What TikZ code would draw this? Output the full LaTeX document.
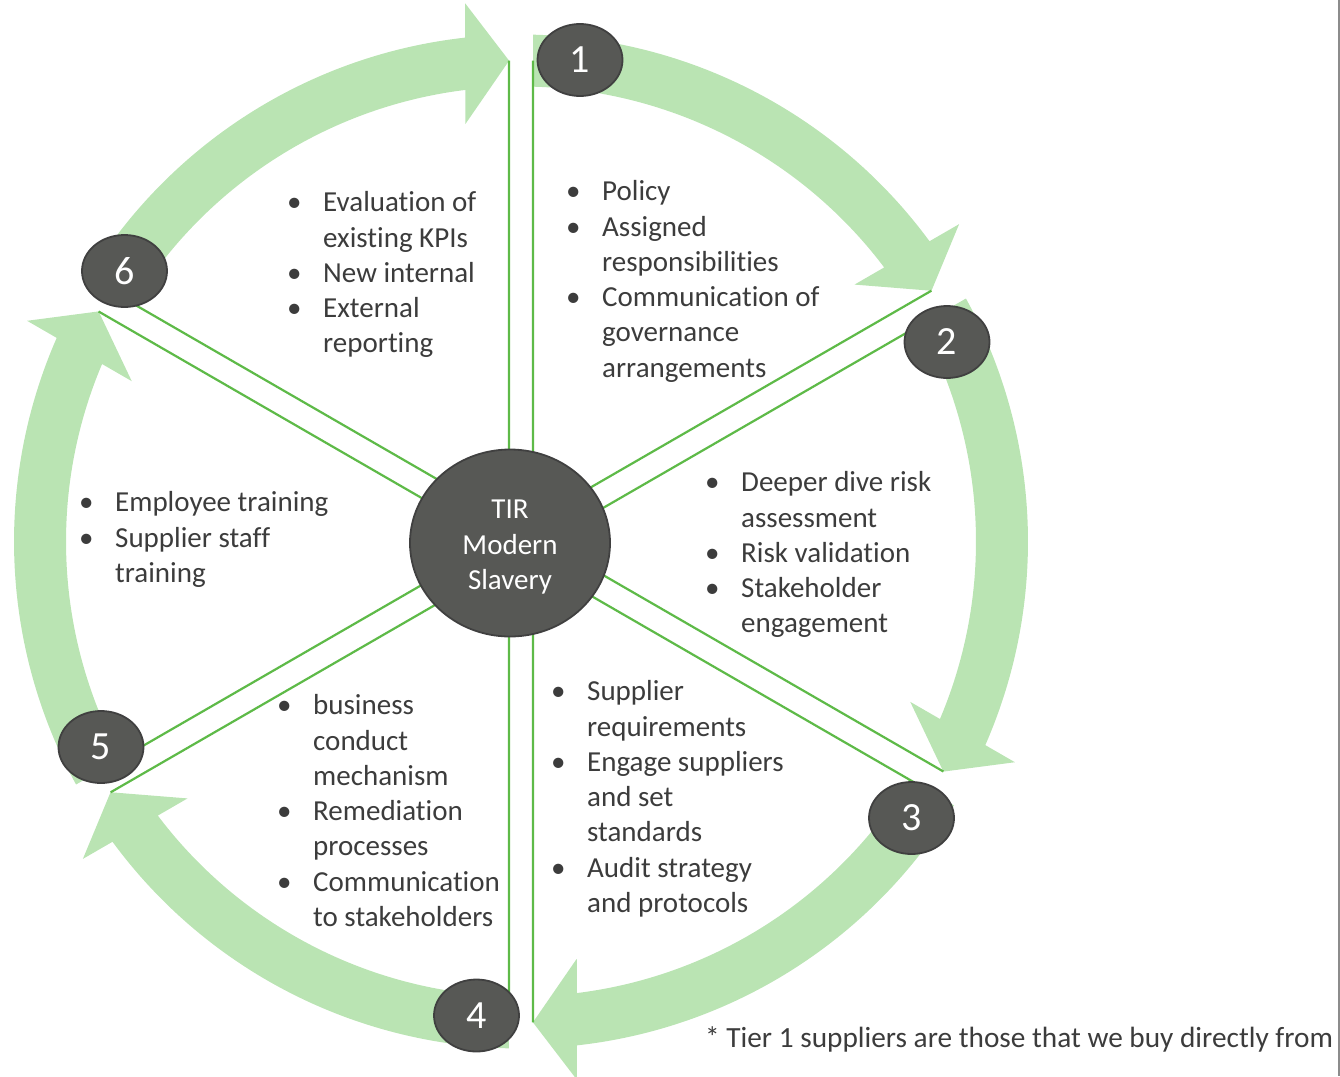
\documentclass[tikz,border=0pt]{standalone}
\usepackage{fontspec}
\setmainfont{Carlito}[Ligatures=NoCommon, RawFeature={-liga;-clig;-dlig}]
\usetikzlibrary{shapes}

\definecolor{ringgreen}{RGB}{186,228,179}
\definecolor{spokegreen}{RGB}{94,186,72}
\definecolor{discgrey}{RGB}{87,88,85}
\definecolor{discedge}{RGB}{64,64,64}
\definecolor{bodygrey}{RGB}{60,60,60}

\newcommand{\bulletlist}[1]{\begin{tabular}{@{}p{36pt}@{}l@{}}#1\end{tabular}}

\tikzset{
  band/.style={fill=ringgreen},
  spoke/.style={draw=spokegreen, line width=2.2pt, line join=round},
  disc/.style={ellipse, draw=discedge, line width=1.8pt, fill=discgrey, text=white, inner sep=0pt},
  stepnum/.style={disc, minimum width=85pt, minimum height=72pt, font=\fontsize{40}{48}\selectfont},
  points/.style={anchor=north west, inner sep=0pt, text=bodygrey, font=\fontsize{29}{35.3}\selectfont}
}

\begin{document}
\begin{tikzpicture}[x=1pt,y=-1pt]
\useasboundingbox (0,0) rectangle (1340,1076);

% ring of arrows (angles run clockwise from east, round the ring centre)
\begin{scope}[shift={(521,541.5)}]
  \fill[band] (-88.64:507) arc[start angle=-88.64, end angle=-36.32, radius=507] -- (-35.92:541) -- (-31.42:481) -- (-37.61:421) -- (-37.04:455) arc[start angle=-37.04, end angle=-88.49, radius=455] -- cycle;
  \fill[band] (-28.64:507) arc[start angle=-28.64, end angle=23.68, radius=507] -- (24.08:541) -- (28.58:481) -- (22.39:421) -- (22.96:455) arc[start angle=22.96, end angle=-28.49, radius=455] -- cycle;
  \fill[band] (31.36:507) arc[start angle=31.36, end angle=83.68, radius=507] -- (84.08:541) -- (88.58:481) -- (82.39:421) -- (82.96:455) arc[start angle=82.96, end angle=31.51, radius=455] -- cycle;
  \fill[band] (91.36:507) arc[start angle=91.36, end angle=143.68, radius=507] -- (144.08:541) -- (148.58:481) -- (142.39:421) -- (142.96:455) arc[start angle=142.96, end angle=91.51, radius=455] -- cycle;
  \fill[band] (151.36:507) arc[start angle=151.36, end angle=203.68, radius=507] -- (204.08:541) -- (208.58:481) -- (202.39:421) -- (202.96:455) arc[start angle=202.96, end angle=151.51, radius=455] -- cycle;
  \fill[band] (211.36:507) arc[start angle=211.36, end angle=263.68, radius=507] -- (264.08:541) -- (268.58:481) -- (262.39:421) -- (262.96:455) arc[start angle=262.96, end angle=211.51, radius=455] -- cycle;

  % spokes, each stage has its own pair
  \draw[spoke] (-88.57:481) -- (-60:24) -- (-31.43:481);
  \draw[spoke] (-28.57:481) -- (0:24) -- (28.57:481);
  \draw[spoke] (31.43:481) -- (60:24) -- (88.57:481);
  \draw[spoke] (91.43:481) -- (120:24) -- (148.57:481);
  \draw[spoke] (151.43:481) -- (180:24) -- (208.57:481);
  \draw[spoke] (211.43:481) -- (240:24) -- (268.57:481);
\end{scope}

% hub (extra height on top pushes the lines a little lower)
\node[disc, minimum width=200pt, minimum height=187pt, font=\fontsize{29}{35.5}\selectfont] (hub) at (510,543) {\raisebox{0pt}[\dimexpr\height+8pt\relax]{\begin{tabular}{@{}c@{}}TIR\\Modern\\Slavery\end{tabular}}};

% step numbers
\node[stepnum] (n1) at (580,60) {1};
\node[stepnum] (n2) at (947,342) {2};
\node[stepnum] (n3) at (911.5,818) {3};
\node[stepnum] (n4) at (476.5,1015.5) {4};
\node[stepnum] (n5) at (101,747) {5};
\node[stepnum] (n6) at (124.5,271) {6};

% stage texts
\node[points] (t1) at (566,175.8) {\bulletlist{
  \textbullet & Policy\\
  \textbullet & Assigned\\
  & responsibilities\\
  \textbullet & Communication of\\
  & governance\\
  & arrangements}};
\node[points] (t2) at (705,466.8) {\bulletlist{
  \textbullet & Deeper dive risk\\
  & assessment\\
  \textbullet & Risk validation\\
  \textbullet & Stakeholder\\
  & engagement}};
\node[points] (t3) at (551,675.8) {\bulletlist{
  \textbullet & Supplier\\
  & requirements\\
  \textbullet & Engage suppliers\\
  & and set\\
  & standards\\
  \textbullet & Audit strategy\\
  & and protocols}};
\node[points] (t4) at (277,689.8) {\bulletlist{
  \textbullet & business\\
  & conduct\\
  & mechanism\\
  \textbullet & Remediation\\
  & processes\\
  \textbullet & Communication\\
  & to stakeholders}};
\node[points] (t5) at (79,486.8) {\bulletlist{
  \textbullet & Employee training\\
  \textbullet & Supplier staff\\
  & training}};
\node[points] (t6) at (287,186.8) {\bulletlist{
  \textbullet & Evaluation of\\
  & existing KPIs\\
  \textbullet & New internal\\
  \textbullet & External\\
  & reporting}};

% footnote
\node[anchor=base west, inner sep=0pt, text=bodygrey, font=\fontsize{29.3}{35}\selectfont] (note) at (705,1047.5) {* Tier 1 suppliers are those that we buy directly from};

% right edge rule
\draw[draw=black!45, line width=2pt] (1338.5,0) -- (1338.5,1076);
\end{tikzpicture}
\end{document}
